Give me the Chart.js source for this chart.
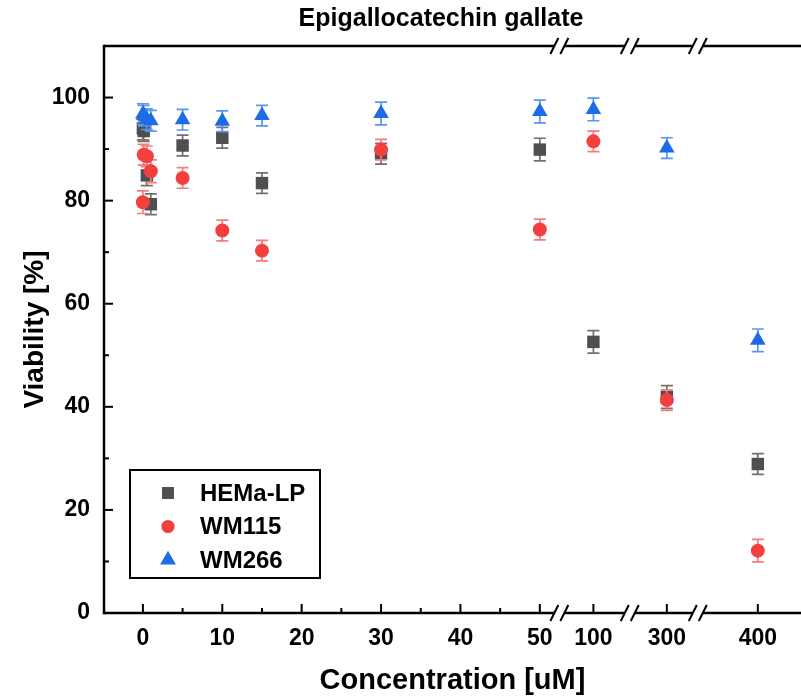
<!DOCTYPE html>
<html>
<head>
<meta charset="utf-8">
<script src="https://cdn.jsdelivr.net/npm/chart.js@4.4.1/dist/chart.umd.min.js"></script>
<style>
  html, body { margin: 0; padding: 0; background: #fff; overflow: hidden; }
</style>
</head>
<body>
<canvas id="viability-chart" width="801" height="698"></canvas>
<script>
// data (Viability %, mean and error)
const concentrations = [0, 0.1, 0.5, 1, 5, 10, 15, 30, 50, 100, 300, 400];
const hemaLP    = [94.0, 93.5, 84.9, 79.3, 90.7, 92.2, 83.4, 89.1, 89.9, 52.6, 41.9, 28.9];
const hemaLPErr = [2.2, 2.0, 2.0, 2.0, 2.0, 2.0, 2.0, 2.0, 2.2, 2.2, 2.2, 2.0];
const wm115     = [79.7, 88.9, 88.6, 85.7, 84.4, 74.2, 70.3, 89.9, 74.4, 91.5, 41.3, 12.1];
const wm115Err  = [2.2, 2.0, 2.0, 2.2, 2.0, 2.0, 2.0, 2.0, 2.0, 2.0, 2.0, 2.2];
const wm266     = [96.8, 96.5, 95.8, 95.5, 95.7, 95.4, 96.5, 96.9, 97.3, 97.7, 90.2, 52.9];
const wm266Err  = [2.0, 2.0, 2.0, 2.0, 2.0, 2.0, 2.0, 2.2, 2.2, 2.2, 2.0, 2.2];

const xTickLabels = [0, 10, 20, 30, 40, 50, 100, 300, 400];
const xMinorTicks = [5, 15, 25, 35, 45];
const yTickLabels = [0, 20, 40, 60, 80, 100];
const yMinorTicks = [10, 30, 50, 70, 90];

// broken x axis: 0-50 linear, then one slot each for 100, 300, 400
const brokenSlots = { 100: 56.75, 300: 66.0, 400: 77.46 };
const breakMarks = [52.46, 61.33, 69.9];

function axisPos(c) {
    return c <= 50 ? c : brokenSlots[c];
}

function makeSeries(values) {
    return concentrations.map((c, i) => ({ x: axisPos(c), y: values[i] }));
}

const seriesInfo = [
    { label: 'HEMa-LP', values: hemaLP, err: hemaLPErr, style: 'rect', radius: 8.8, color: '#4f4f4f', errColor: '#707070', order: 3 },
    { label: 'WM115', values: wm115, err: wm115Err, style: 'circle', radius: 7, color: '#f43f3f', errColor: '#f77b7b', order: 2 },
    { label: 'WM266', values: wm266, err: wm266Err, style: 'triangle', radius: 9, color: '#1c6ce6', errColor: '#5a95ee', order: 1 }
];

const errorBars = {
    id: 'errorBars',
    beforeDatasetDraw(chart, args) {
        const info = seriesInfo[args.index];
        const y = chart.scales.y;
        const ctx = chart.ctx;
        ctx.save();
        ctx.strokeStyle = info.errColor;
        ctx.lineWidth = 1.7;
        args.meta.data.forEach((pt, i) => {
            const top = y.getPixelForValue(info.values[i] + info.err[i]);
            const bot = y.getPixelForValue(info.values[i] - info.err[i]);
            ctx.beginPath();
            ctx.moveTo(pt.x, top); ctx.lineTo(pt.x, bot);
            ctx.moveTo(pt.x - 6, top); ctx.lineTo(pt.x + 6, top);
            ctx.moveTo(pt.x - 6, bot); ctx.lineTo(pt.x + 6, bot);
            ctx.stroke();
        });
        ctx.restore();
    }
};

const frame = {
    id: 'frame',
    afterDraw(chart) {
        const { ctx, chartArea: a, scales: { x, y } } = chart;
        ctx.save();
        ctx.strokeStyle = '#000';
        ctx.lineWidth = 2.5;

        function seg(x1, y1, x2, y2) {
            ctx.beginPath(); ctx.moveTo(x1, y1); ctx.lineTo(x2, y2); ctx.stroke();
        }

        seg(a.left, a.top - 1.25, a.left, a.bottom + 1.25);

        [a.top, a.bottom].forEach(yy => {
            let start = a.left;
            breakMarks.forEach(b => {
                const px = x.getPixelForValue(b);
                seg(start, yy, px - 5, yy);
                start = px + 5;
            });
            seg(start, yy, a.right, yy);
            ctx.lineWidth = 2;
            breakMarks.forEach(b => {
                const px = x.getPixelForValue(b);
                seg(px - 9, yy + 8, px - 1, yy - 8);
                seg(px + 1, yy + 8, px + 9, yy - 8);
            });
            ctx.lineWidth = 2.5;
        });

        // inward ticks
        ctx.lineWidth = 2;
        xTickLabels.forEach(v => {
            const px = x.getPixelForValue(axisPos(v));
            seg(px, a.bottom, px, a.bottom - 9);
        });
        xMinorTicks.forEach(v => {
            const px = x.getPixelForValue(v);
            seg(px, a.bottom, px, a.bottom - 5);
        });
        yTickLabels.forEach(v => {
            const py = y.getPixelForValue(v);
            seg(a.left, py, a.left + 9, py);
        });
        yMinorTicks.forEach(v => {
            const py = y.getPixelForValue(v);
            seg(a.left, py, a.left + 5, py);
        });

        // title
        ctx.fillStyle = '#000';
        ctx.font = 'bold 25px "Liberation Sans", Arial, sans-serif';
        ctx.textAlign = 'center';
        ctx.textBaseline = 'middle';
        ctx.fillText('Epigallocatechin gallate', 441, 19);

        // legend
        const lx = a.left + 26, ly = a.top + 424;
        ctx.lineWidth = 2;
        ctx.strokeRect(lx, ly, 190, 108);
        ctx.font = 'bold 24px "Liberation Sans", Arial, sans-serif';
        ctx.textAlign = 'left';
        seriesInfo.forEach((s, i) => {
            const my = ly + 23 + i * 33.5;
            ctx.fillStyle = s.color;
            ctx.strokeStyle = s.color;
            Chart.helpers.drawPoint(ctx, { pointStyle: s.style, radius: s.radius * 0.8, rotation: 0, borderWidth: 1 }, lx + 38, my);
            ctx.fillStyle = '#000';
            ctx.fillText(s.label, lx + 70, my + 1);
        });
        ctx.restore();
    }
};

const chartCtx = document.getElementById('viability-chart').getContext('2d');

new Chart(chartCtx, {
    type: 'scatter',
    data: {
        datasets: seriesInfo.map(s => ({
            label: s.label,
            data: makeSeries(s.values),
            pointStyle: s.style,
            pointRadius: s.radius,
            pointHoverRadius: s.radius,
            backgroundColor: s.color,
            borderColor: s.color,
            pointBorderWidth: 0,
            order: s.order
        }))
    },
    options: {
        responsive: false,
        animation: false,
        layout: { autoPadding: false, padding: { top: 46, right: 0, left: 0, bottom: 0 } },
        plugins: {
            legend: { display: false },
            tooltip: { enabled: false }
        },
        scales: {
            x: {
                type: 'linear',
                min: -4.9,
                max: 82.9,
                grid: { display: false, drawTicks: false },
                border: { display: false },
                afterBuildTicks: scale => {
                    scale.ticks = xTickLabels.map(v => ({ value: axisPos(v) }));
                },
                afterFit: scale => {
                    scale.height = 85;
                    scale.paddingLeft = 0;
                    scale.paddingRight = 0;
                },
                ticks: {
                    padding: 12,
                    color: '#000',
                    maxRotation: 0,
                    autoSkip: false,
                    font: { family: '"Liberation Sans", Arial, sans-serif', size: 23, weight: 'bold' },
                    callback: (val, idx) => String(xTickLabels[idx])
                },
                title: {
                    display: true,
                    text: 'Concentration [uM]',
                    color: '#000',
                    padding: { top: 0, bottom: 0 },
                    font: { family: '"Liberation Sans", Arial, sans-serif', size: 29, weight: 'bold' }
                }
            },
            y: {
                min: 0,
                max: 110,
                grid: { display: false, drawTicks: false },
                border: { display: false },
                afterBuildTicks: scale => {
                    scale.ticks = yTickLabels.map(v => ({ value: v }));
                },
                afterFit: scale => {
                    scale.width = 104;
                    scale.paddingTop = 0;
                    scale.paddingBottom = 0;
                },
                ticks: {
                    padding: 14,
                    color: '#000',
                    font: { family: '"Liberation Sans", Arial, sans-serif', size: 23, weight: 'bold' }
                },
                title: {
                    display: true,
                    text: 'Viability [%]',
                    color: '#000',
                    padding: { top: 18, bottom: 0 },
                    font: { family: '"Liberation Sans", Arial, sans-serif', size: 28, weight: 'bold' }
                }
            }
        }
    },
    plugins: [errorBars, frame]
});
</script>
</body>
</html>
